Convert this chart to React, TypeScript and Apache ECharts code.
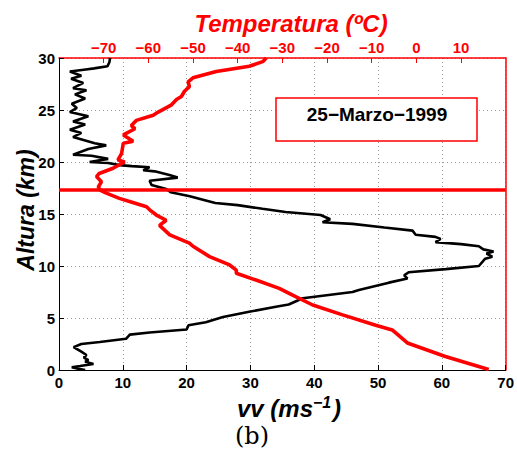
import React, { useEffect, useRef } from "react";
import * as echarts from "echarts";

// Wind speed vv (m/s) vs altitude (km), black curve
const vvAlt = [30.0, 29.6, 29.2, 29.0, 28.9, 28.7, 28.3, 28.0, 27.6, 27.1, 26.9, 26.5, 26.1, 25.6, 25.2, 24.8, 24.4, 23.9, 23.6, 23.1, 22.8, 22.4, 21.8, 21.6, 21.25, 20.7, 20.6, 20.3, 20.0, 19.9, 19.7, 19.6, 19.5, 19.2, 19.1, 18.75, 18.5, 18.2, 17.8, 17.4, 17.1, 16.7, 16.3, 16.05, 15.85, 15.5, 15.2, 14.9, 14.5, 14.2, 14.05, 13.7, 13.4, 13.0, 12.8, 12.6, 12.3, 12.1, 11.9, 11.6, 11.4, 11.2, 10.9, 10.7, 10.0, 9.7, 9.4, 9.1, 8.8, 8.4, 7.7, 7.5, 6.9, 6.3, 6.1, 5.6, 5.1, 4.6, 4.3, 3.9, 3.6, 3.4, 3.0, 2.7, 2.5, 2.2, 1.76, 1.44, 1.2, 0.96, 0.8, 0.58, 0.38, 0.26, 0.12, 0.0];
const vvValues = [8.0, 7.9, 7.6, 5.5, 4.2, 1.7, 3.5, 1.9, 3.8, 2.2, 4.3, 2.5, 4.1, 2.0, 2.8, 1.7, 4.6, 2.2, 4.1, 1.7, 3.5, 2.2, 5.6, 7.4, 4.6, 2.2, 5.1, 7.7, 4.8, 7.7, 9.5, 11.4, 14.2, 13.2, 15.0, 17.3, 18.6, 14.2, 14.5, 16.8, 17.5, 20.5, 23.0, 24.5, 28.0, 31.9, 35.5, 41.0, 42.5, 41.3, 46.0, 51.0, 55.4, 55.9, 59.0, 59.8, 59.0, 63.0, 65.8, 66.5, 68.1, 67.0, 67.9, 66.8, 65.8, 60.6, 54.8, 54.1, 54.6, 51.7, 47.0, 46.0, 38.2, 36.0, 34.2, 29.8, 25.7, 23.0, 20.3, 20.0, 14.2, 11.1, 10.5, 6.4, 3.5, 2.3, 3.5, 4.3, 3.9, 4.6, 4.1, 5.4, 3.3, 2.0, 3.0, 4.1];

// Temperature (ºC) vs altitude (km), red curve
const tempAlt = [30.0, 29.65, 29.2, 28.7, 28.1, 27.7, 27.25, 26.8, 26.3, 26.0, 25.5, 24.8, 24.5, 24.0, 23.5, 23.2, 22.6, 22.0, 21.8, 20.8, 20.2, 20.0, 19.4, 18.9, 18.6, 18.1, 17.6, 17.3, 17.0, 16.5, 16.2, 15.7, 15.4, 14.9, 14.4, 13.9, 13.0, 12.2, 11.9, 10.9, 10.1, 9.6, 9.3, 8.65, 7.85, 7.2, 6.25, 5.3, 4.3, 3.85, 2.6, 1.3, 0.05];
const tempValues = [-33.6, -34.4, -37.4, -44.8, -50.0, -51.1, -50.8, -51.9, -52.6, -53.7, -54.8, -57.8, -58.9, -62.7, -63.8, -63.0, -65.6, -63.4, -65.6, -66.0, -66.8, -65.3, -67.9, -71.0, -71.6, -70.5, -71.2, -70.8, -69.4, -66.5, -64.2, -60.4, -59.7, -58.2, -56.0, -57.5, -55.2, -50.8, -50.0, -46.3, -41.8, -40.3, -40.3, -35.9, -30.7, -27.7, -23.2, -16.5, -9.1, -5.4, -2.0, 6.5, 16.2];

// Tropopause altitude (km)
const tropopause = [17.3];

const vvRange = [0, 70];
const tempRange = [-80, 20];
const altRange = [0, 30];
const dateLabel = "25\u2212Marzo\u22121999";

const FONT = "'Liberation Sans', Arial, sans-serif";

export default function App() {
  const ref = useRef<HTMLDivElement>(null);
  useEffect(() => {
    const chart = echarts.init(ref.current!, null, { renderer: "svg" });
    const labelStyle = { fontFamily: FONT, fontWeight: "bold" as const, fontSize: 15, color: "#000" };
    chart.setOption({
      animation: false,
      backgroundColor: "#fff",
      grid: { left: 59, right: 10, top: 58, bottom: 80 },
      xAxis: [
        {
          type: "value", position: "bottom", min: vvRange[0], max: vvRange[1], interval: 10,
          axisLine: { onZero: false, lineStyle: { color: "#000", width: 1 } },
          axisTick: { inside: true, length: 5, lineStyle: { color: "#000" } },
          axisLabel: { ...labelStyle, margin: 5 },
          splitLine: { show: true, lineStyle: { color: "#999", type: [1, 3], width: 1 } },
        },
        {
          type: "value", position: "top", min: tempRange[0], max: tempRange[1], interval: 10,
          axisLine: { onZero: false, lineStyle: { color: "#ff0000", width: 1.5 } },
          axisTick: { inside: true, length: 5, lineStyle: { color: "#ff0000" } },
          axisLabel: {
            ...labelStyle, color: "#ff0000", margin: 3, showMinLabel: false, showMaxLabel: false,
            formatter: (v: number) => String(v).replace("-", "\u2212"),
          },
          splitLine: { show: false },
        },
      ],
      yAxis: [
        {
          type: "value", position: "left", min: altRange[0], max: altRange[1], interval: 5,
          axisLine: { show: true, onZero: false, lineStyle: { color: "#000", width: 1 } },
          axisTick: { show: true, inside: true, length: 5, lineStyle: { color: "#000" } },
          axisLabel: { ...labelStyle, margin: 4 },
          splitLine: { show: true, lineStyle: { color: "#999", type: [1, 3], width: 1 } },
        },
        {
          type: "value", position: "right", min: altRange[0], max: altRange[1], interval: 5,
          axisLine: { show: true, onZero: false, lineStyle: { color: "#ff0000", width: 1.5 } },
          axisTick: { show: false },
          axisLabel: { show: false },
          splitLine: { show: false },
        },
      ],
      series: [
        {
          type: "line", xAxisIndex: 0, yAxisIndex: 0, showSymbol: false, symbol: "none",
          lineStyle: { color: "#000", width: 2.6 }, z: 3,
          data: vvValues.map((v, i) => [v, vvAlt[i]]),
        },
        {
          type: "line", xAxisIndex: 1, yAxisIndex: 0, showSymbol: false, symbol: "none",
          lineStyle: { color: "#ff0000", width: 3.6 }, z: 4,
          data: tempValues.map((v, i) => [v, tempAlt[i]]),
          markLine: {
            silent: true, symbol: "none", label: { show: false },
            lineStyle: { color: "#ff0000", width: 3.5, type: "solid" },
            data: tropopause.map((t) => ({ yAxis: t })),
          },
        },
      ],
      graphic: [
        {
          type: "text", x: 291, y: 23,
          style: { text: "Temperatura (\u00baC)", fill: "#ff0000", font: `italic bold 24px ${FONT}`, textAlign: "center", textVerticalAlign: "middle" },
        },
        {
          type: "text", x: 26, y: 210, rotation: Math.PI / 2,
          style: { text: "Altura (km)", fill: "#000", font: `italic bold 23px ${FONT}`, textAlign: "center", textVerticalAlign: "middle" },
        },
        {
          type: "text", x: 237, y: 420,
          style: { text: "vv (ms", fill: "#000", font: `italic bold 24px ${FONT}`, textAlign: "left", textVerticalAlign: "bottom" },
        },
        {
          type: "text", x: 313, y: 410,
          style: { text: "\u22121", fill: "#000", font: `italic bold 16px ${FONT}`, textAlign: "left", textVerticalAlign: "bottom" },
        },
        {
          type: "text", x: 333, y: 420,
          style: { text: ")", fill: "#000", font: `italic bold 24px ${FONT}`, textAlign: "left", textVerticalAlign: "bottom" },
        },
        {
          type: "text", x: 252, y: 436,
          style: { text: "(b)", fill: "#000", font: `24px 'DejaVu Serif', serif`, textAlign: "center", textVerticalAlign: "middle" },
        },
        {
          type: "rect", shape: { x: 276, y: 98, width: 201, height: 43 },
          style: { fill: "#fff", stroke: "#ff0000", lineWidth: 1.5 }, z: 10,
        },
        {
          type: "text", x: 377, y: 114, z: 11,
          style: { text: dateLabel, fill: "#000", font: `bold 19px ${FONT}`, textAlign: "center", textVerticalAlign: "middle" },
        },
      ],
    });
    return () => chart.dispose();
  }, []);
  return <div ref={ref} style={{ position: "absolute", left: 0, top: 0, width: 517, height: 450 }} />;
}
